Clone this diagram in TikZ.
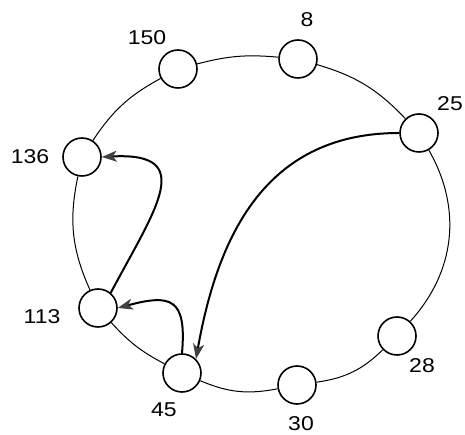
\documentclass[tikz,border=0pt]{standalone}
\usepackage{fontspec}
\newfontfamily\lblfont[FakeStretch=1.15]{Liberation Sans}
\usetikzlibrary{arrows.meta}
\tikzset{
  peer/.style={circle,draw,line width=1.6pt,minimum size=38pt,inner sep=0pt},
  lbl/.style={font=\lblfont\fontsize{20}{20}\selectfont,inner sep=0pt},
  ring/.style={line width=1pt},
  hop/.style={-{Stealth[length=15pt,width=11pt,inset=4pt,color=black!75]},line width=2pt}
}

\begin{document}
\begin{tikzpicture}[x=1pt,y=1pt]
\useasboundingbox (0,0) rectangle (465,435);

% Peers, placed round the ring
\node[peer] (n8)   at (298,376) {};
\node[peer] (n150) at (178,366) {};
\node[peer] (n136) at ( 82,278) {};
\node[peer] (n113) at ( 98,127) {};
\node[peer] (n45)  at (182, 62) {};
\node[peer] (n30)  at (297, 50) {};
\node[peer] (n28)  at (397, 99) {};
\node[peer] (n25)  at (419,302) {};

% Identifiers
\node[lbl] (l8)   at (307,415) {8};
\node[lbl] (l150) at (147,397) {150};
\node[lbl] (l136) at ( 30,278) {136};
\node[lbl] (l113) at ( 42,118) {113};
\node[lbl] (l45)  at (164, 25) {45};
\node[lbl] (l30)  at (301, 11) {30};
\node[lbl] (l28)  at (422, 69) {28};
\node[lbl] (l25)  at (450,331) {25};

% Ring
\draw[ring] (n25)  to[bend right=15] (n8);
\draw[ring] (n8)   to[bend right=10] (n150);
\draw[ring] (n150) to[bend right=14] (n136);
\draw[ring] (n136) to[bend right=18] (n113);
\draw[ring] (n113) to[bend right=10] (n45);
\draw[ring] (n45)  to[bend right=17] (n30);
\draw[ring] (n30)  to[bend right=18] (n28);
\draw[ring] (n28)  to[bend right=36] (n25);

% Lookup hops
\draw[hop] (n25.west) to[out=180,in=80,looseness=1.1] (n45.45);
\draw[hop] (n45.north) to[out=85,in=15,looseness=1.8] (n113.east);
\draw[hop] (n113.50) to[out=62,in=3,looseness=1.8] (n136.east);

\end{tikzpicture}
\end{document}
